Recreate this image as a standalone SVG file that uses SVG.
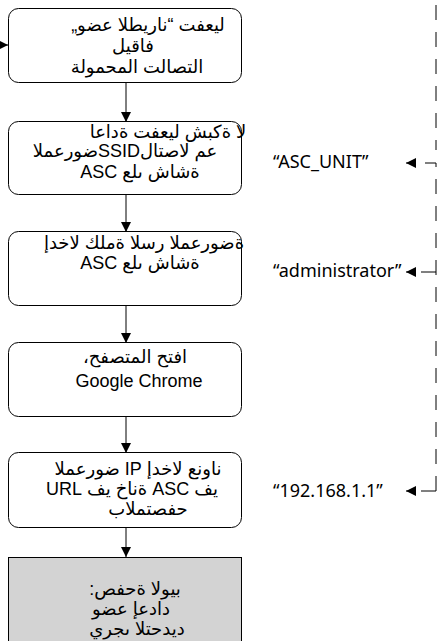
<svg xmlns="http://www.w3.org/2000/svg" width="446" height="641" viewBox="0 0 446 641">
<defs>
<style>
.box{fill:#fff;stroke:#000;stroke-width:1}
.grey{fill:#d3d3d3;stroke:#000;stroke-width:1}
.t{font-family:"Liberation Sans","DejaVu Sans",sans-serif;font-size:18px;fill:#000;text-anchor:middle;direction:rtl}
.lbl{font-family:"Noto Sans","Open Sans",sans-serif;font-size:18px;fill:#000}
.edge{stroke:#000;stroke-width:1;fill:none}
.dash{stroke:#000;stroke-width:1;fill:none;stroke-dasharray:15 12}
</style>
<marker id="ah" viewBox="0 0 10 10" refX="10" refY="5" markerWidth="10" markerHeight="10" markerUnits="userSpaceOnUse" orient="auto">
<path d="M0,0 L10,5 L0,10 z" fill="#000"/>
</marker>
</defs>
<rect width="446" height="641" fill="#fff"/>
<g id="connectors">
<path class="edge" d="M-10,45 L8,45" marker-end="url(#ah)"/>
<path class="edge" d="M126,82 L126,122" marker-end="url(#ah)"/>
<path class="edge" d="M126,195 L126,232" marker-end="url(#ah)"/>
<path class="edge" d="M126,305 L126,343" marker-end="url(#ah)"/>
<path class="edge" d="M126,417 L126,453" marker-end="url(#ah)"/>
<path class="edge" d="M126,528 L126,557" marker-end="url(#ah)"/>
<path class="dash" d="M436,5 L436,150"/>
<path class="dash" d="M436,491 L436,163 L406,163" marker-end="url(#ah)"/>
<path class="dash" d="M436,272 L406,272" marker-end="url(#ah)"/>
<path class="dash" d="M436,491 L406,491" marker-end="url(#ah)"/>
</g>
<g id="n1">
<rect class="box" x="8.5" y="8.5" width="233" height="74" rx="10"/>
<text class="t" x="148" y="31">ليعفت “ناريطلا عضو„</text>
<text class="t" x="133" y="52">فاقيل</text>
<text class="t" x="137" y="73">التصالت المحمولة</text>
</g>
<g id="n2">
<rect class="box" x="8.5" y="121.5" width="233" height="73" rx="10"/>
<text class="t" x="168" y="138">لا ةكبش ليعفت ةداعا</text>
<text class="t" x="125" y="157">عم لاصتالSSIDضورعملا</text>
<text class="t" x="140" y="178">ةشاش ىلع ASC</text>
</g>
<g id="n3">
<rect class="box" x="8.5" y="231.5" width="233" height="74" rx="10"/>
<text class="t" x="144" y="249">ةضورعملا رسلا ةملك لاخدإ</text>
<text class="t" x="140" y="269">ةشاش ىلع ASC</text>
</g>
<g id="n4">
<rect class="box" x="8.5" y="342.5" width="233" height="74" rx="10"/>
<text class="t" x="135" y="363">افتح المتصفح،</text>
<text class="t" x="139" y="387">Google Chrome</text>
</g>
<g id="n5">
<rect class="box" x="8.5" y="452.5" width="233" height="75" rx="10"/>
<text class="t" x="138" y="475">ناونع لاخدإ IP ضورعملا</text>
<text class="t" x="132" y="495">يف ASC ةناخ يف URL</text>
<text class="t" x="148" y="515">حفصتملاب</text>
</g>
<g id="n6">
<rect class="grey" x="8.5" y="557.5" width="233" height="100"/>
<text class="t" x="135" y="595">بيولا ةحفص:</text>
<text class="t" x="131" y="615">دادعإ عضو</text>
<text class="t" x="137" y="635">ديدحتلا ىجري</text>
</g>
<g id="labels">
<text class="lbl" x="273" y="168">“ASC_UNIT”</text>
<text class="lbl" x="273" y="277">“administrator”</text>
<text class="lbl" x="273" y="497">“192.168.1.1”</text>
</g>
</svg>
